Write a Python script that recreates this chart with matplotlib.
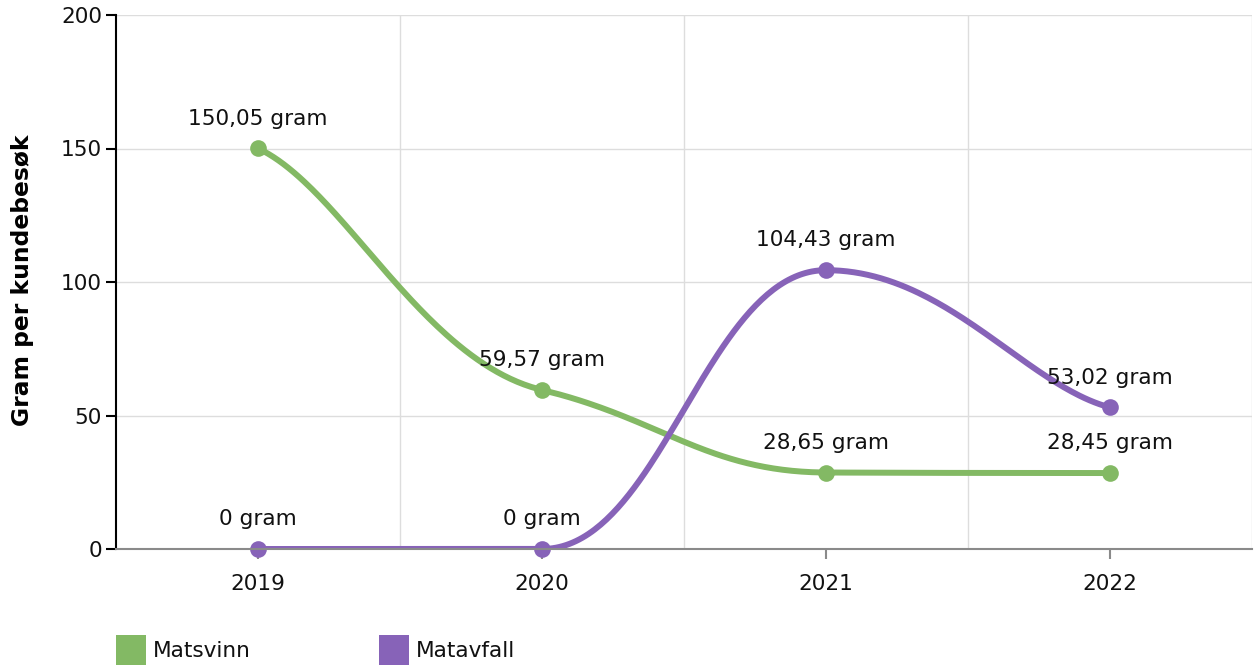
import numpy as np
import matplotlib
matplotlib.use("Agg")
import matplotlib.pyplot as plt
from matplotlib.patches import Rectangle

plt.rcParams['font.family'] = ['DejaVu Sans']

years = ["2019", "2020", "2021", "2022"]
matsvinn = [150.05, 59.57, 28.65, 28.45]
matavfall = [0.0, 0.0, 104.43, 53.02]
series_names = ["Matsvinn", "Matavfall"]
colors = ["#83b964", "#8763b8"]
yticks = [0, 50, 100, 150, 200]

FS = 15.6


def fmt(v):
    s = f"{v:.2f}".rstrip("0").rstrip(".")
    return s.replace(".", ",") + " gram"


def spline(xs, ys, k=0.42, a=0.42, ke=0.55, ae=0.3, n=100):
    xs = np.asarray(xs, float)
    ys = np.asarray(ys, float)
    N = len(xs)
    m = np.zeros(N)
    for i in range(1, N - 1):
        mi = k * (ys[i + 1] - ys[i - 1]) / (xs[i + 1] - xs[i - 1])
        dl = a * (xs[i] - xs[i - 1])
        dr = a * (xs[i + 1] - xs[i])
        ly = ys[i] - dl * mi
        lo, hi = sorted([ys[i - 1], ys[i]])
        if ly < lo or ly > hi:
            ly = min(max(ly, lo), hi)
            mi = (ys[i] - ly) / dl
        ry = ys[i] + dr * mi
        lo, hi = sorted([ys[i], ys[i + 1]])
        if ry < lo or ry > hi:
            ry = min(max(ry, lo), hi)
            mi = (ry - ys[i]) / dr
        m[i] = mi
    m[0] = ke * (ys[1] - ys[0]) / (xs[1] - xs[0])
    m[-1] = ke * (ys[-1] - ys[-2]) / (xs[-1] - xs[-2])
    px, py = [], []
    t = np.linspace(0, 1, n)
    for i in range(N - 1):
        dx = xs[i + 1] - xs[i]
        a0 = ae if i == 0 else a
        a1 = ae if i == N - 2 else a
        P0 = (xs[i], ys[i])
        P1 = (xs[i] + a0 * dx, ys[i] + a0 * dx * m[i])
        P2 = (xs[i + 1] - a1 * dx, ys[i + 1] - a1 * dx * m[i + 1])
        P3 = (xs[i + 1], ys[i + 1])
        b0 = (1 - t) ** 3
        b1 = 3 * (1 - t) ** 2 * t
        b2 = 3 * (1 - t) * t ** 2
        b3 = t ** 3
        px.append(b0 * P0[0] + b1 * P1[0] + b2 * P2[0] + b3 * P3[0])
        py.append(b0 * P0[1] + b1 * P1[1] + b2 * P2[1] + b3 * P3[1])
    return np.concatenate(px), np.concatenate(py)


W, H = 1255, 665
fig = plt.figure(figsize=(W / 100, H / 100), dpi=100)
ax = fig.add_axes([116 / W, (H - 549) / H, (1252 - 116) / W, (549 - 15) / H])

x = np.arange(len(years))
ax.set_xlim(-0.5, len(years) - 0.5)
ax.set_ylim(0, 200)

# grid
for yv in yticks[1:]:
    ax.axhline(yv, color="#dddddd", lw=1.0, zorder=0)
for xv in np.arange(0.5, len(years), 1.0):
    ax.axvline(xv, color="#dddddd", lw=1.0, zorder=0)

for vals, col in zip([matsvinn, matavfall], colors):
    sx, sy = spline(x, vals)
    ax.plot(sx, sy, color=col, lw=4.3, solid_capstyle="round", zorder=3)
for vals, col in zip([matsvinn, matavfall], colors):
    ax.plot(x, vals, "o", color=col, ms=12, mew=0, zorder=4, clip_on=False)
    for xi, v in zip(x, vals):
        ax.annotate(fmt(v), (xi, v), xytext=(0, 21.5), textcoords="offset points",
                    ha="center", va="center", fontsize=FS, color="#111111", zorder=6)

ax.set_xticks(x)
ax.set_xticklabels(years)
ax.set_yticks(yticks)
ax.set_yticklabels([str(v) for v in yticks])

for s in ["top", "right"]:
    ax.spines[s].set_visible(False)
ax.spines["left"].set_color("#000000")
ax.spines["left"].set_linewidth(1.5)
ax.spines["bottom"].set_color("#8a8a8a")
ax.spines["bottom"].set_linewidth(1.5)
ax.spines["left"].set_zorder(5)
ax.spines["bottom"].set_zorder(5)

ax.tick_params(axis="y", direction="out", length=7, width=1.5, color="#000000",
               labelsize=FS, pad=3, labelcolor="#111111")
ax.tick_params(axis="x", direction="out", length=7, width=1.5, color="#8a8a8a",
               labelsize=FS, pad=11, labelcolor="#111111")

fig.text(23 / W, 1 - 280 / H, "Gram per kundebesøk", fontsize=16.8, fontweight="bold",
         rotation=90, ha="center", va="center", color="#000000")

# legend
leg_x = [116, 379]
for name, col, lx in zip(series_names, colors, leg_x):
    fig.patches.append(Rectangle((lx / W, 0), 30 / W, 30 / H, transform=fig.transFigure,
                                 facecolor=col, edgecolor="none"))
    fig.text((lx + 37) / W, (H - 651) / H, name, fontsize=FS, va="center", ha="left",
             color="#111111")

fig.savefig("out.png", dpi=100)
